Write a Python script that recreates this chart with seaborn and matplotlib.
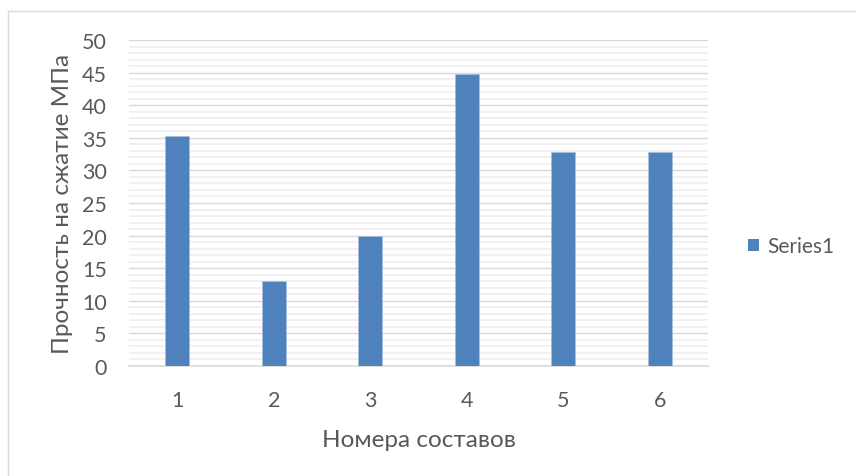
import matplotlib
matplotlib.use("Agg")
import matplotlib.pyplot as plt
from matplotlib.lines import Line2D
from matplotlib.patches import Patch
import seaborn as sns
import pandas as pd

# Compressive strength per mix number
compositions = ["1", "2", "3", "4", "5", "6"]
strength = [35.3, 13.1, 19.9, 44.8, 32.9, 32.9]
series_name = "Series1"
y_ticks = [0, 5, 10, 15, 20, 25, 30, 35, 40, 45, 50]

df = pd.DataFrame({"composition": compositions, "strength": strength})

sns.set_theme(style="white")
plt.rcParams["font.family"] = ["Lato", "DejaVu Sans"]

text_color = "#595959"
bar_color = "#4f81bd"

fig = plt.figure(figsize=(8.56, 4.77), dpi=100)
ax = fig.add_axes([0.1507, 0.2306, 0.6764, 0.6834])

sns.barplot(data=df, x="composition", y="strength", color=bar_color,
            width=0.25, saturation=1, ax=ax, zorder=3,
            edgecolor="#a7bfdc", linewidth=0.6)

ax.set_ylim(0, 50)
ax.set_xlim(-0.5, 5.5)
ax.set_yticks(y_ticks)
ax.set_yticks([v for v in range(0, 51) if v % 5], minor=True)

# Excel-like major and minor horizontal gridlines
ax.grid(axis="y", which="major", color="#d9d9d9", linewidth=1.0, zorder=1)
ax.grid(axis="y", which="minor", color="#efefef", linewidth=1.2, zorder=0)
ax.grid(axis="x", visible=False)
ax.set_axisbelow(True)

for side in ["top", "right", "left"]:
    ax.spines[side].set_visible(False)
ax.spines["bottom"].set_color("#d9d9d9")
ax.spines["bottom"].set_linewidth(1.2)

ax.tick_params(axis="y", which="both", length=0, pad=16, labelsize=15.5, labelcolor=text_color)
ax.tick_params(axis="x", length=0, pad=17, labelsize=15.5, labelcolor=text_color)

ax.set_xlabel("Номера составов", fontsize=17.5, color=text_color, labelpad=14)
ax.set_ylabel("Прочность на сжатие МПа", fontsize=17.5, color=text_color, labelpad=6)

handles = [Patch(facecolor=bar_color, edgecolor="none")]
fig.legend(handles, [series_name], loc="center left",
           bbox_to_anchor=(0.874, 0.482), frameon=False, fontsize=15,
           borderpad=0, borderaxespad=0,
           handlelength=0.5, handleheight=0.5, handletextpad=0.4,
           labelcolor=text_color)

# Chart-area border (top and left edges)
border = "#d9d9d9"
fig.add_artist(Line2D([8 / 856, 1.0], [1 - 12 / 477, 1 - 12 / 477],
                      transform=fig.transFigure, color=border, linewidth=1.0))
fig.add_artist(Line2D([8 / 856, 8 / 856], [0.0, 1 - 12 / 477],
                      transform=fig.transFigure, color=border, linewidth=1.0))

fig.savefig("out.png", dpi=100, facecolor="white")
